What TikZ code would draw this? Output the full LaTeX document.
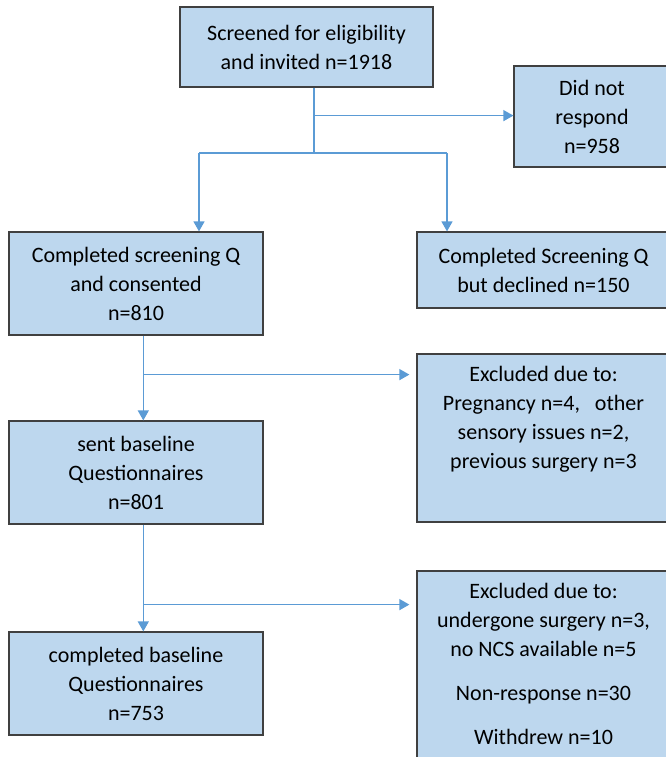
\documentclass[tikz,border=0pt]{standalone}
\usepackage{fontspec}
\setmainfont{Carlito}
\usetikzlibrary{arrows.meta,calc}
\definecolor{boxfill}{HTML}{BDD7EE}
\definecolor{boxline}{HTML}{404040}
\definecolor{arrowc}{HTML}{5B9BD5}
\begin{document}
\begin{tikzpicture}[x=1pt,y=-1pt,
  box/.style={draw=boxline, line width=1.2pt, fill=boxfill, inner sep=0pt, align=center, font=\fontsize{22}{29}\selectfont},
  txt/.style={inner sep=0pt, align=center, font=\fontsize{22}{29}\selectfont},
  conn/.style={draw=arrowc, line width=1.3pt},
  arr/.style={conn, -{Triangle[length=10pt,width=11pt]}}]
\useasboundingbox (0,0) rectangle (665,757);
% boxes
\node[box, minimum width=253pt, minimum height=80pt] (top) at (306.5,47) {Screened for eligibility\\and invited n=1918};
\node[box, minimum width=156pt, minimum height=101pt] (dnr) at (592,116.5) {Did not\\respond\\n=958};
\node[box, minimum width=254pt, minimum height=103pt] (c1) at (136,283.5) {Completed screening Q\\and consented\\n=810};
\node[box, minimum width=253pt, minimum height=76pt] (decl) at (543.5,270) {Completed Screening Q\\but declined n=150};
\node[box, minimum width=253pt, minimum height=168pt] (ex1) at (543.5,438) {};
\node[txt, anchor=north] (ex1t) at ($(ex1.north)+(0,12.5)$) {Excluded due to:\\Pregnancy n=4,\ \ \ other\\sensory issues n=2,\\previous surgery n=3};
\node[box, minimum width=254pt, minimum height=103pt] (sent) at (136,472.5) {sent baseline\\Questionnaires\\n=801};
\node[box, minimum width=254pt, minimum height=103pt] (comp) at (136,683.5) {completed baseline\\Questionnaires\\n=753};
\node[box, minimum width=253pt, minimum height=209pt] (ex2) at (543.5,675.5) {};
\node[txt, anchor=north] (ex2t) at ($(ex2.north)+(0,12.5)$) {Excluded due to:\\undergone surgery n=3,\\no NCS available n=5\\[15pt]Non-response n=30\\[15pt]Withdrew n=10};
% connector coordinates
\coordinate (tb) at ($(top.south)+(7.5,0)$);
\coordinate (t1) at ($(tb)+(0,28)$);
\coordinate (t2) at ($(tb)+(0,66)$);
\coordinate (tl) at (199,153);
\coordinate (tr) at (447,153);
\coordinate (cb) at ($(c1.south)+(7.3,0)$);
\coordinate (c2) at ($(cb)+(0,39)$);
\coordinate (sb) at ($(sent.south)+(7.3,0)$);
\coordinate (s2) at ($(sb)+(0,80)$);
% connectors
\draw[conn] (tb) -- (t2);
\draw[arr] (t1) -- (t1 -| dnr.west);
\draw[conn] (tl) -- (tr);
\draw[arr] (tl) -- (tl |- c1.north);
\draw[arr] (tr) -- (tr |- decl.north);
\draw[arr] (cb) -- (cb |- sent.north);
\draw[arr, shorten >=7pt] (c2) -- (c2 -| ex1.west);
\draw[arr] (sb) -- (sb |- comp.north);
\draw[arr, shorten >=7pt] (s2) -- (s2 -| ex2.west);
\end{tikzpicture}
\end{document}
